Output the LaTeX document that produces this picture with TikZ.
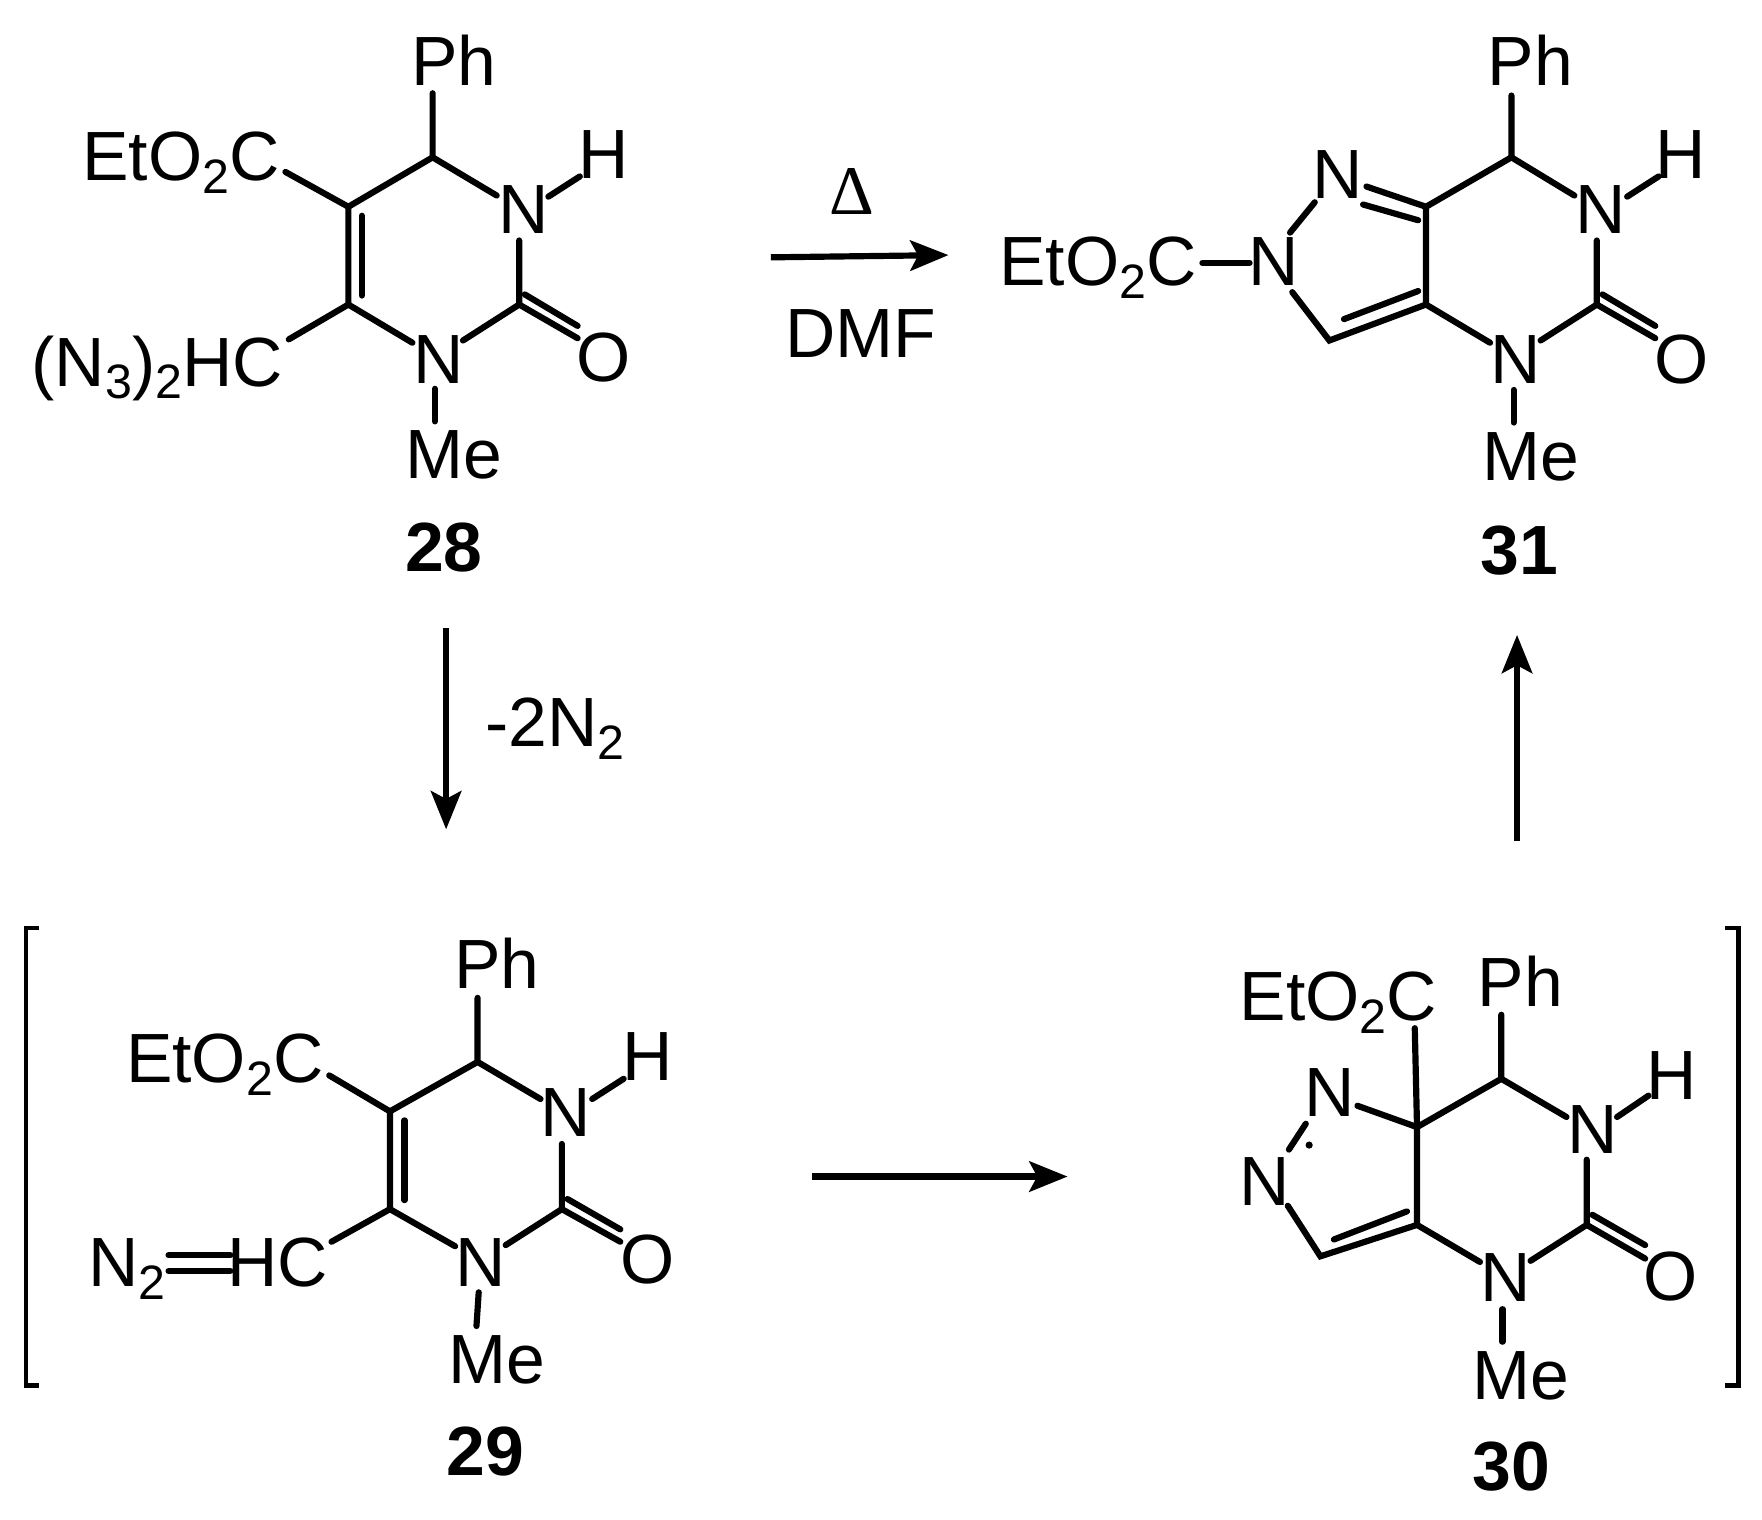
\documentclass[tikz,border=0pt]{standalone}
\usepackage{fontspec}
\setmainfont{Liberation Sans}
\newfontfamily\deltafont{Liberation Serif}
\usetikzlibrary{arrows.meta}
\newcommand{\subdigit}[1]{\raisebox{-11.5pt}{\fontsize{43}{43}\selectfont #1}}
\tikzset{
 bond/.style={line width=5.5pt,line cap=round,line join=miter,black},
 lbl/.style={inner sep=0pt,text height=44pt,text depth=0pt,yshift=1.5pt,font=\fontsize{62}{62}\selectfont,text=black},
 cmpd/.style={inner sep=0pt,text height=44pt,text depth=0pt,yshift=1pt,font=\fontsize{62}{62}\selectfont\bfseries,text=black},
 rxn/.style={line width=5.5pt,-{Stealth[length=34pt,width=27pt,inset=7pt]}},
 brk/.style={line width=3.8pt,black},
}
\begin{document}
\begin{tikzpicture}[x=1pt,y=-1pt]
\useasboundingbox (0,0) rectangle (1568,1352);
% ---- 28
\node[lbl] (p28) at (404,56) {Ph};
\node[lbl] (e28) at (161,140) {EtO\subdigit{2}C};
\node[lbl] (h28) at (537,138) {H};
\node[lbl] (n28a) at (466,187) {N};
\node[lbl] (az28) at (140,323) {(N\subdigit{3})\subdigit{2}HC};
\node[lbl] (o28) at (537,319) {O};
\node[lbl] (n28b) at (390,321) {N};
\node[lbl] (m28) at (404,405) {Me};
\node[cmpd] (l28) at (395,488) {28};
\coordinate (a1) at (385,140);
\coordinate (a2) at (310,184);
\coordinate (a3) at (310,271);
\coordinate (a4) at (462,271);
\draw[bond] (385,83) -- (a1) -- (442,174);
\draw[bond] (a1) -- (a2) -- (a3) -- (367,305);
\draw[bond] (322,192) -- (322,263);
\draw[bond] (a2) -- (254,153);
\draw[bond] (a3) -- (257,302);
\draw[bond] (488,175) -- (516,157);
\draw[bond] (462,214) -- (a4) -- (412,303);
\draw[bond] (a4) -- (514,301);
\draw[bond] (467,262) -- (514,290);
\draw[bond] (387,346) -- (387,375);
% ---- 31
\node[lbl] (p31) at (1362,56) {Ph};
\node[lbl] (e31) at (977,234) {EtO\subdigit{2}C};
\node[lbl] (h31) at (1496,138) {H};
\node[lbl] (n31a) at (1424,187) {N};
\node[lbl] (n31c) at (1190,156) {N};
\node[lbl] (n31d) at (1133,234) {N};
\node[lbl] (o31) at (1496,321) {O};
\node[lbl] (n31b) at (1349,321) {N};
\node[lbl] (m31) at (1362,407) {Me};
\node[cmpd] (l31) at (1352,490) {31};
\coordinate (b1) at (1345,140);
\coordinate (b2) at (1269,184);
\coordinate (b3) at (1269,271);
\coordinate (b4) at (1421,271);
\coordinate (b5) at (1183,303);
\draw[bond] (1345,85) -- (b1) -- (1401,174);
\draw[bond] (b1) -- (b2) -- (b3) -- (1326,305);
\draw[bond] (1216,166) -- (b2);
\draw[bond] (1213,182) -- (1262,196) ;
\draw[bond] (b3) -- (b5) -- (1150,260);
\draw[bond] (1262,259) -- (1196,284);
\draw[bond] (1448,175) -- (1476,157);
\draw[bond] (1421,214) -- (b4) -- (1371,303);
\draw[bond] (b4) -- (1473,301);
\draw[bond] (1426,262) -- (1473,290);
\draw[bond] (1347,347) -- (1347,376);
\draw[bond] (1070,234) -- (1112,234);
\draw[bond] (1148,207) -- (1170,180);
% ---- 29
\node[lbl] (p29) at (442,859) {Ph};
\node[lbl] (e29) at (200,943) {EtO\subdigit{2}C};
\node[lbl] (h29) at (576,941) {H};
\node[lbl] (n29a) at (503,991) {N};
\node[lbl] (n2) at (113,1124) {N\subdigit{2}};
\node[lbl] (hc) at (247,1124) {HC};
\node[lbl] (o29) at (576,1122) {O};
\node[lbl] (n29b) at (428,1124) {N};
\node[lbl] (m29) at (442,1211) {Me};
\node[cmpd] (l29) at (432,1292) {29};
\coordinate (c1) at (425,945);
\coordinate (c2) at (347,989);
\coordinate (c3) at (347,1076);
\coordinate (c4) at (500,1076);
\draw[bond] (425,888) -- (c1) -- (481,978);
\draw[bond] (c1) -- (c2) -- (c3) -- (405,1109);
\draw[bond] (360,997) -- (360,1068);
\draw[bond] (c2) -- (293,957);
\draw[bond] (c3) -- (295,1105);
\draw[bond] (527,978) -- (555,960);
\draw[bond] (500,1018) -- (c4) -- (450,1108);
\draw[bond] (c4) -- (552,1105);
\draw[bond] (505,1067) -- (552,1094);
\draw[bond] (426,1150) -- (424,1180);
\draw[bond] (150,1117) -- (205,1117);
\draw[bond] (150,1131) -- (205,1131);
% ---- 30
\node[lbl] (p30) at (1353,875) {Ph};
\node[lbl] (e30) at (1191,888) {EtO\subdigit{2}C};
\node[lbl] (h30) at (1488,958) {H};
\node[lbl] (n30a) at (1417,1006) {N};
\node[lbl] (n30c) at (1183,973) {N};
\node[lbl] (n30d) at (1125,1052) {N};
\node[lbl] (o30) at (1487,1137) {O};
\node[lbl] (n30b) at (1340,1138) {N};
\node[lbl] (m30) at (1353,1225) {Me};
\node[cmpd] (l30) at (1345,1305) {30};
\coordinate (d1) at (1336,960);
\coordinate (d2) at (1261,1003);
\coordinate (d3) at (1261,1090);
\coordinate (d4) at (1412,1090);
\coordinate (d5) at (1175,1118);
\draw[bond] (1336,903) -- (d1) -- (1394,994);
\draw[bond] (d1) -- (d2) -- (d3) -- (1317,1123);
\draw[bond] (d2) -- (1259,915);
\draw[bond] (d2) -- (1208,984);
\draw[bond] (d3) -- (d5) -- (1146,1073);
\draw[bond] (1252,1078) -- (1187,1103);
\draw[bond] (1439,994) -- (1467,975);
\draw[bond] (1412,1032) -- (d4) -- (1362,1122);
\draw[bond] (d4) -- (1464,1120);
\draw[bond] (1417,1081) -- (1464,1108);
\draw[bond] (1337,1165) -- (1337,1194);
\draw[bond] (1147,1023) -- (1162,1000);
\fill (1165,1019) circle (3.2);
% ---- brackets
\draw[brk] (35,826) -- (23,826) -- (23,1233) -- (35,1233);
\draw[brk] (1535,826) -- (1547,826) -- (1547,1233) -- (1535,1233);
% ---- arrows
\coordinate (r1s) at (686,229); \coordinate (r1e) at (844,227);
\draw[rxn] (r1s) -- (r1e);
\node[lbl,font=\fontsize{62}{62}\deltafont] (delta) at (758,170) {Δ};
\node[lbl] (dmf) at (766,298) {DMF};
\coordinate (r2s) at (397,559); \coordinate (r2e) at (397,738);
\draw[rxn] (r2s) -- (r2e);
\node[lbl] (minus) at (494,644) {-2N\subdigit{2}};
\coordinate (r3s) at (723,1047); \coordinate (r3e) at (950,1047);
\draw[rxn] (r3s) -- (r3e);
\coordinate (r4s) at (1350,748); \coordinate (r4e) at (1350,565);
\draw[rxn] (r4s) -- (r4e);
\end{tikzpicture}
\end{document}
